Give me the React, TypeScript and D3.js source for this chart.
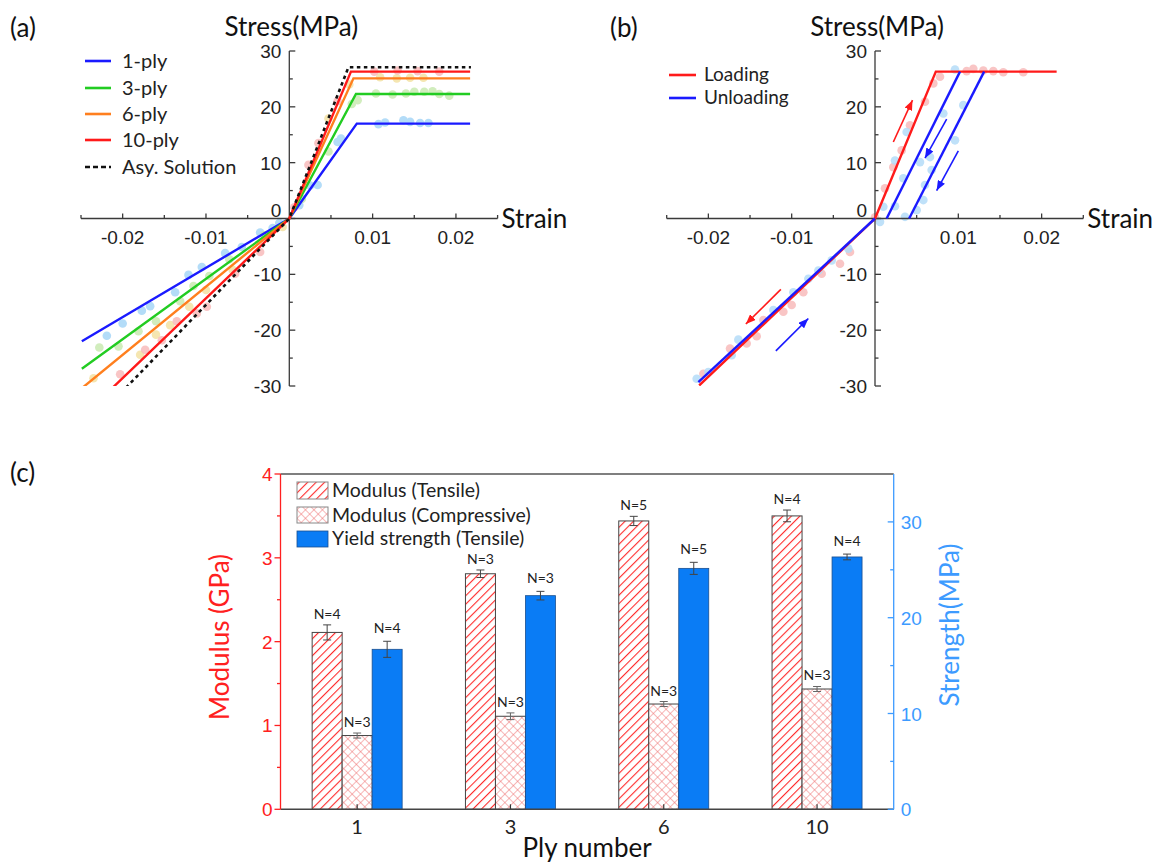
import React from "react";
import * as d3 from "d3";

const W = 1156;
const H = 863;
const TXT = "Lato, 'Open Sans', sans-serif";
const NUM = "'Liberation Sans', Arial, sans-serif";
const AXC = "#3a3a3a";

// ---------- panel (a) : stress-strain of n-ply ----------
const plyNames = ["1-ply", "3-ply", "6-ply", "10-ply"];
const plyColors = ["#1a1aff", "#22cc22", "#ff7f1e", "#ff1a1a"];
const plyDotColors = ["#a6d6f7", "#c9eab2", "#f4e2a4", "#f8bcbc"];

const ply1Fit = [[-0.0249, -22.0], [0, 0], [0.0081, 17.0], [0.0217, 17.0]];
const ply3Fit = [[-0.0249, -26.9], [0, 0], [0.008, 22.3], [0.0217, 22.3]];
const ply6Fit = [[-0.0249, -30.4], [0, 0], [0.0077, 25.1], [0.0217, 25.1]];
const ply10Fit = [[-0.0212, -30.3], [0, 0], [0.0074, 26.3], [0.0217, 26.3]];
const asyFit = [[-0.0196, -30.3], [0, 0], [0.0071, 27.1], [0.0218, 27.1]];

const ply1Pts = [
  [-0.0219, -21], [-0.02, -18.8], [-0.0177, -16.5], [-0.0167, -15.7], [-0.0137, -13.2],
  [-0.0121, -10.1], [-0.0105, -8.7], [-0.0077, -6.2], [-0.0057, -5.1], [-0.0035, -2.5],
  [-0.002, -1.7], [-0.0012, -0.8], [0.0012, 2.4], [0.0025, 5.9], [0.0034, 6.0], [0.0058, 13.7],
  [0.0062, 14.3], [0.0107, 16.9], [0.0115, 17.2], [0.0137, 17.6], [0.0145, 17.3],
  [0.0157, 17.1], [0.0167, 17.1],
];
const ply3Pts = [
  [-0.0228, -23.1], [-0.0205, -22.9], [-0.0181, -20.2], [-0.016, -18.4], [-0.0131, -14.8],
  [-0.0115, -12.1], [-0.0096, -10.3], [-0.0072, -7.3], [-0.003, -3.0], [0.0015, 3.5],
  [0.0047, 12.0], [0.0075, 20.5], [0.0082, 21.2], [0.0104, 22.4], [0.0124, 22.2],
  [0.014, 22.4], [0.015, 22.7], [0.0162, 22.7], [0.0172, 22.8], [0.018, 22.3], [0.0192, 22.0],
];
const ply6Pts = [
  [-0.0235, -28.6], [-0.0179, -24.4], [-0.016, -20.8], [-0.0143, -19.1], [-0.012, -15.8],
  [-0.01, -12.8], [-0.0068, -9.2], [-0.0008, -1.5], [0.0047, 17.9], [0.0072, 24.0],
  [0.0109, 25.3], [0.0129, 25.1], [0.0145, 25.2], [0.0161, 25.2],
];
const ply10Pts = [
  [-0.0203, -27.9], [-0.0173, -23.5], [-0.0153, -21.8], [-0.0135, -18.4], [-0.0111, -17.0],
  [-0.0099, -15.8], [-0.0065, -9.9], [-0.0035, -6.0], [0.0006, 2.0], [0.0023, 9.6],
  [0.0035, 13.5], [0.0058, 21.0], [0.0102, 26.3], [0.013, 26.5], [0.0154, 26.4], [0.018, 26.3],
];

// ---------- panel (b) : loading / unloading ----------
const loadingFit = [[-0.0211, -29.9], [0, 0], [0.0073, 26.3], [0.0218, 26.3]];
const unloadCompFit = [[-0.0212, -29.3], [0, 0]];
const unload1Fit = [[0.0014, 0], [0.0102, 26.3]];
const unload2Fit = [[0.0041, 0], [0.0131, 26.3]];

const loadingPts = [
  [-0.0206, -27.8], [-0.0174, -23.3], [-0.0154, -22.4], [-0.0142, -21.1], [-0.0134, -18.2],
  [-0.011, -16.7], [-0.01, -15.5], [-0.0086, -13.2], [-0.0064, -9.9], [-0.0042, -8.1],
  [-0.003, -6.0], [0.0, 0.2], [0.0012, 5.4], [0.0022, 9.2], [0.0032, 12.2], [0.0042, 16.7],
  [0.006, 20.9], [0.007, 24.2], [0.0078, 25.4], [0.011, 26.4], [0.0118, 26.8],
  [0.013, 26.5], [0.0142, 26.4], [0.0154, 26.2], [0.0178, 26.2],
];
const unloadingPts = [
  [-0.0214, -28.7], [-0.02, -27.5], [-0.0172, -24.5], [-0.0164, -21.7], [-0.0122, -16.4],
  [-0.0098, -13.2], [-0.008, -10.8], [-0.0068, -9.3], [-0.0052, -7.5], [-0.0032, -5.4],
  [0.0006, -0.6], [0.001, 2.1], [0.0024, 2.2], [0.0036, 0.3], [0.0024, 10.4], [0.0034, 7.2],
  [0.0038, 15.5], [0.005, 1.5], [0.0054, 10.1], [0.0058, 3.3], [0.006, 6.0], [0.0066, 11.0],
  [0.0068, 8.7], [0.0082, 18.8], [0.0096, 14.0], [0.0106, 20.3], [0.0096, 26.7],
];

const redArrows = [
  [[0.0022, 13.7], [0.0045, 21.2]],
  [[-0.0113, -12.7], [-0.0155, -18.9]],
];
const blueArrows = [
  [[0.0086, 17.8], [0.006, 10.8]],
  [[0.01, 12.1], [0.0074, 5.0]],
  [[-0.0119, -23.7], [-0.008, -17.9]],
];

// ---------- axes ticks ----------
const strainTicks = [-0.02, -0.01, 0.01, 0.02];
const strainMinor = [-0.025, -0.015, -0.005, 0.005, 0.015, 0.025];
const stressTicks = [-30, -20, -10, 0, 10, 20, 30];
const stressMinor = [-25, -15, -5, 5, 15, 25];

// ---------- panel (c) : bar chart ----------
const plyNumbers = ["1", "3", "6", "10"];
const tensileMod = [2.11, 2.81, 3.44, 3.5];
const tensileErr = [0.09, 0.045, 0.055, 0.07];
const tensileN = [4, 3, 5, 4];
const compMod = [0.88, 1.11, 1.256, 1.435];
const compErr = [0.03, 0.04, 0.03, 0.03];
const compN = [3, 3, 3, 3];
const yieldStr = [16.7, 22.3, 25.15, 26.34];
const yieldErr = [0.84, 0.45, 0.63, 0.3];
const yieldN = [4, 3, 5, 4];
const modTicks = [0, 1, 2, 3, 4];
const modMinor = [0.5, 1.5, 2.5, 3.5];
const strTicks = [0, 10, 20, 30];
const strMinor = [5, 15, 25];

const xA = d3.scaleLinear().domain([-0.025, 0.025]).range([81, 497.6]);
const xB = d3.scaleLinear().domain([-0.025, 0.025]).range([666.7, 1083.3]);
const yAB = d3.scaleLinear().domain([-30, 30]).range([386, 51]);

function CrossAxes({ x, y }: any) {
  const x0 = x(0);
  const y0 = y(0);
  return (
    <g>
      <g stroke={AXC} strokeWidth={1.3}>
        <line x1={x.range()[0]} x2={x.range()[1]} y1={y0} y2={y0} />
        <line x1={x0} x2={x0} y1={y(-30)} y2={y(30)} />
        {strainTicks.map((t) => (
          <line key={t} x1={x(t)} x2={x(t)} y1={y0} y2={y0 - 5} />
        ))}
        {strainMinor.map((t) => (
          <line key={t} x1={x(t)} x2={x(t)} y1={y0} y2={y0 - 3.5} />
        ))}
        {stressTicks.map((t) => (
          <line key={t} x1={x0} x2={x0 + 6} y1={y(t)} y2={y(t)} />
        ))}
        {stressMinor.map((t) => (
          <line key={t} x1={x0} x2={x0 + 3.5} y1={y(t)} y2={y(t)} />
        ))}
      </g>
      <g fontFamily={NUM} fontSize={19} fill="#222">
        {strainTicks.map((t) => (
          <text key={t} x={x(t)} y={y0 + 25} textAnchor="middle">
            {String(t)}
          </text>
        ))}
        {stressTicks.map((t) => (
          <text
            key={t}
            x={x0 - 8}
            y={t === 0 ? y0 - 2 : y(t) + 7}
            textAnchor="end"
          >
            {String(t)}
          </text>
        ))}
      </g>
      <text x={x0 + 2} y={36} fontFamily={TXT} fontSize={26} textAnchor="middle" fill="#111">
        Stress(MPa)
      </text>
      <text x={x.range()[1] + 4} y={y0 + 9} fontFamily={TXT} fontSize={26} fill="#111">
        Strain
      </text>
    </g>
  );
}

function Dots({ pts, x, y, color }: any) {
  return (
    <g fill={color} opacity={0.85}>
      {pts.map((d: number[], i: number) => (
        <circle key={i} cx={x(d[0])} cy={y(d[1])} r={4.3} />
      ))}
    </g>
  );
}

export default function App() {
  const lineA = d3.line<number[]>().x((d) => xA(d[0])).y((d) => yAB(d[1]));
  const lineB = d3.line<number[]>().x((d) => xB(d[0])).y((d) => yAB(d[1]));
  const plyFits = [ply1Fit, ply3Fit, ply6Fit, ply10Fit];
  const plyPts = [ply1Pts, ply3Pts, ply6Pts, ply10Pts];

  // panel (c) scales
  const xC = d3.scalePoint<string>().domain(plyNumbers).range([280.5, 893.7]).padding(0.5);
  const yMod = d3.scaleLinear().domain([0, 4]).range([809.3, 474]);
  const yStr = d3.scaleLinear().domain([0, 35]).range([809.3, 474]);
  const bw = 30;
  const cLeft = 280.5;
  const cRight = 893.7;
  const red = "#ff2020";
  const blueAx = "#3d9bff";

  const legendA = [...plyNames, "Asy. Solution"];
  const legendAy = [61, 88, 114, 140, 167];

  const errBar = (cx: number, lo: number, hi: number, key: string, color = "#444") => (
    <g key={key} stroke={color} strokeWidth={1}>
      <line x1={cx} x2={cx} y1={lo} y2={hi} />
      <line x1={cx - 4} x2={cx + 4} y1={lo} y2={lo} />
      <line x1={cx - 4} x2={cx + 4} y1={hi} y2={hi} />
    </g>
  );

  return (
    <svg
      width={W}
      height={H}
      viewBox={`0 0 ${W} ${H}`}
      style={{ position: "absolute", left: 0, top: 0, background: "#fff" }}
    >
      <defs>
        <clipPath id="clipA">
          <rect x={81} y={40} width={420} height={346} />
        </clipPath>
        <clipPath id="clipB">
          <rect x={666} y={40} width={420} height={346} />
        </clipPath>
        <pattern id="hatch" width={6} height={6} patternUnits="userSpaceOnUse" patternTransform="rotate(45)">
          <rect width={6} height={6} fill="#fff" />
          <line x1={0} y1={0} x2={0} y2={6} stroke="#ff2a2a" strokeWidth={2.2} />
        </pattern>
        <pattern id="cross" width={6} height={6} patternUnits="userSpaceOnUse" patternTransform="rotate(45)">
          <rect width={6} height={6} fill="#fff" />
          <line x1={0} y1={0} x2={0} y2={6} stroke="#f07070" strokeWidth={1} />
          <line x1={0} y1={0} x2={6} y2={0} stroke="#f07070" strokeWidth={1} />
        </pattern>
        <marker id="arrRed" viewBox="0 0 10 8" refX={10} refY={4} markerWidth={10} markerHeight={8} markerUnits="userSpaceOnUse" orient="auto">
          <path d="M0,0 L10,4 L0,8 z" fill="#ff1a1a" />
        </marker>
        <marker id="arrBlue" viewBox="0 0 10 8" refX={10} refY={4} markerWidth={10} markerHeight={8} markerUnits="userSpaceOnUse" orient="auto">
          <path d="M0,0 L10,4 L0,8 z" fill="#1a1aff" />
        </marker>
      </defs>

      {/* ---------- (a) ---------- */}
      <text x={10} y={37} fontFamily={TXT} fontSize={26} fill="#111">(a)</text>
      <g clipPath="url(#clipA)">
        {plyPts.map((p, i) => (
          <Dots key={i} pts={p} x={xA} y={yAB} color={plyDotColors[i]} />
        ))}
      </g>
      <CrossAxes x={xA} y={yAB} />
      <g clipPath="url(#clipA)" fill="none" strokeWidth={2.4}>
        {plyFits.map((f, i) => (
          <path key={i} d={lineA(f) || ""} stroke={plyColors[i]} />
        ))}
        <path d={lineA(asyFit) || ""} stroke="#111" strokeDasharray="3.5,3.5" strokeWidth={2.6} />
      </g>
      <g fontFamily={TXT} fontSize={20} fill="#222">
        {legendA.map((name, i) => (
          <g key={name}>
            <line
              x1={85}
              x2={111}
              y1={legendAy[i]}
              y2={legendAy[i]}
              stroke={i < 4 ? plyColors[i] : "#111"}
              strokeWidth={2.6}
              strokeDasharray={i < 4 ? undefined : "5,3"}
            />
            <text x={122} y={legendAy[i] + 7}>{name}</text>
          </g>
        ))}
      </g>

      {/* ---------- (b) ---------- */}
      <text x={610} y={37} fontFamily={TXT} fontSize={26} fill="#111">(b)</text>
      <g clipPath="url(#clipB)">
        <Dots pts={loadingPts} x={xB} y={yAB} color="#f8bcbc" />
        <Dots pts={unloadingPts} x={xB} y={yAB} color="#b4dcf8" />
      </g>
      <CrossAxes x={xB} y={yAB} />
      <g clipPath="url(#clipB)" fill="none" strokeWidth={2.4}>
        <path d={lineB(loadingFit) || ""} stroke="#ff1a1a" />
        <path d={lineB(unloadCompFit) || ""} stroke="#1a1aff" />
        <path d={lineB(unload1Fit) || ""} stroke="#1a1aff" />
        <path d={lineB(unload2Fit) || ""} stroke="#1a1aff" />
      </g>
      <g strokeWidth={1.6}>
        {redArrows.map((a, i) => (
          <line key={i} x1={xB(a[0][0])} y1={yAB(a[0][1])} x2={xB(a[1][0])} y2={yAB(a[1][1])} stroke="#ff1a1a" markerEnd="url(#arrRed)" />
        ))}
        {blueArrows.map((a, i) => (
          <line key={i} x1={xB(a[0][0])} y1={yAB(a[0][1])} x2={xB(a[1][0])} y2={yAB(a[1][1])} stroke="#1a1aff" markerEnd="url(#arrBlue)" />
        ))}
      </g>
      <g fontFamily={TXT} fontSize={19} fill="#222">
        <line x1={669} x2={696} y1={75} y2={75} stroke="#ff1a1a" strokeWidth={2.6} />
        <text x={704} y={81}>Loading</text>
        <line x1={669} x2={696} y1={98} y2={98} stroke="#1a1aff" strokeWidth={2.6} />
        <text x={704} y={104}>Unloading</text>
      </g>

      {/* ---------- (c) ---------- */}
      <text x={10} y={482} fontFamily={TXT} fontSize={26} fill="#111">(c)</text>
      {plyNumbers.map((p, i) => {
        const c = xC(p) as number;
        return (
          <g key={p}>
            <rect x={c - 1.5 * bw} y={yMod(tensileMod[i])} width={bw} height={yMod(0) - yMod(tensileMod[i])} fill="url(#hatch)" stroke="#444" strokeWidth={1} />
            <rect x={c - 0.5 * bw} y={yMod(compMod[i])} width={bw} height={yMod(0) - yMod(compMod[i])} fill="url(#cross)" stroke="#444" strokeWidth={1} />
            <rect x={c + 0.5 * bw} y={yStr(yieldStr[i])} width={bw} height={yStr(0) - yStr(yieldStr[i])} fill="#0a7cf5" stroke="#1b4f8f" strokeWidth={0.8} />
            {errBar(c - bw, yMod(tensileMod[i] - tensileErr[i]), yMod(tensileMod[i] + tensileErr[i]), "t")}
            {errBar(c, yMod(compMod[i] - compErr[i]), yMod(compMod[i] + compErr[i]), "c", "#666")}
            {errBar(c + bw, yStr(yieldStr[i] - yieldErr[i]), yStr(yieldStr[i] + yieldErr[i]), "y")}
            <g fontFamily={TXT} fontSize={14} fill="#222" textAnchor="middle">
              <text x={c - bw} y={yMod(tensileMod[i] + tensileErr[i]) - 6}>N={tensileN[i]}</text>
              <text x={c} y={yMod(compMod[i] + compErr[i]) - 6}>N={compN[i]}</text>
              <text x={c + bw} y={yStr(yieldStr[i] + yieldErr[i]) - 8}>N={yieldN[i]}</text>
            </g>
            <line x1={c} x2={c} y1={yMod(0)} y2={yMod(0) - 5} stroke="#333" strokeWidth={1.2} />
            <text x={c} y={834} fontFamily={TXT} fontSize={20} textAnchor="middle" fill="#222">{p}</text>
          </g>
        );
      })}
      {/* frame */}
      <line x1={cLeft} x2={cRight} y1={474} y2={474} stroke="#555" strokeWidth={1.3} />
      <line x1={cLeft} x2={cRight} y1={809.3} y2={809.3} stroke="#444" strokeWidth={1.4} />
      <g stroke={red} strokeWidth={1.3}>
        <line x1={cLeft} x2={cLeft} y1={474} y2={809.3} />
        {modTicks.map((t) => (
          <line key={t} x1={cLeft} x2={cLeft - 6} y1={yMod(t)} y2={yMod(t)} />
        ))}
        {modMinor.map((t) => (
          <line key={t} x1={cLeft} x2={cLeft - 3.5} y1={yMod(t)} y2={yMod(t)} />
        ))}
      </g>
      <g fontFamily={NUM} fontSize={19} fill={red} textAnchor="end">
        {modTicks.map((t) => (
          <text key={t} x={cLeft - 8} y={yMod(t) + 7}>{t}</text>
        ))}
      </g>
      <g stroke={blueAx} strokeWidth={1.3}>
        <line x1={cRight} x2={cRight} y1={474} y2={809.3} />
        {strTicks.map((t) => (
          <line key={t} x1={cRight} x2={cRight - 6} y1={yStr(t)} y2={yStr(t)} />
        ))}
        {strMinor.map((t) => (
          <line key={t} x1={cRight} x2={cRight - 3.5} y1={yStr(t)} y2={yStr(t)} />
        ))}
      </g>
      <g fontFamily={NUM} fontSize={19} fill={blueAx}>
        {strTicks.map((t) => (
          <text key={t} x={cRight + 7} y={yStr(t) + 7}>{t}</text>
        ))}
      </g>
      <text transform="translate(229,637) rotate(-90)" fontFamily={TXT} fontSize={26} fill={red} textAnchor="middle">
        Modulus (GPa)
      </text>
      <text transform="translate(959,625) rotate(-90)" fontFamily={TXT} fontSize={26} fill={blueAx} textAnchor="middle">
        Strength(MPa)
      </text>
      <text x={(cLeft + cRight) / 2} y={857} fontFamily={TXT} fontSize={26} fill="#111" textAnchor="middle">
        Ply number
      </text>
      {/* legend (c) */}
      <g fontFamily={TXT} fontSize={19.5} fill="#222">
        <rect x={297} y={482} width={31} height={17} fill="url(#hatch)" stroke="#888" strokeWidth={1} />
        <text x={332} y={497}>Modulus (Tensile)</text>
        <rect x={297} y={507} width={31} height={16} fill="url(#cross)" stroke="#888" strokeWidth={1} />
        <text x={332} y={522}>Modulus (Compressive)</text>
        <rect x={297} y={531} width={31} height={16} fill="#0a7cf5" stroke="#1b4f8f" strokeWidth={0.8} />
        <text x={332} y={545}>Yield strength (Tensile)</text>
      </g>
    </svg>
  );
}
